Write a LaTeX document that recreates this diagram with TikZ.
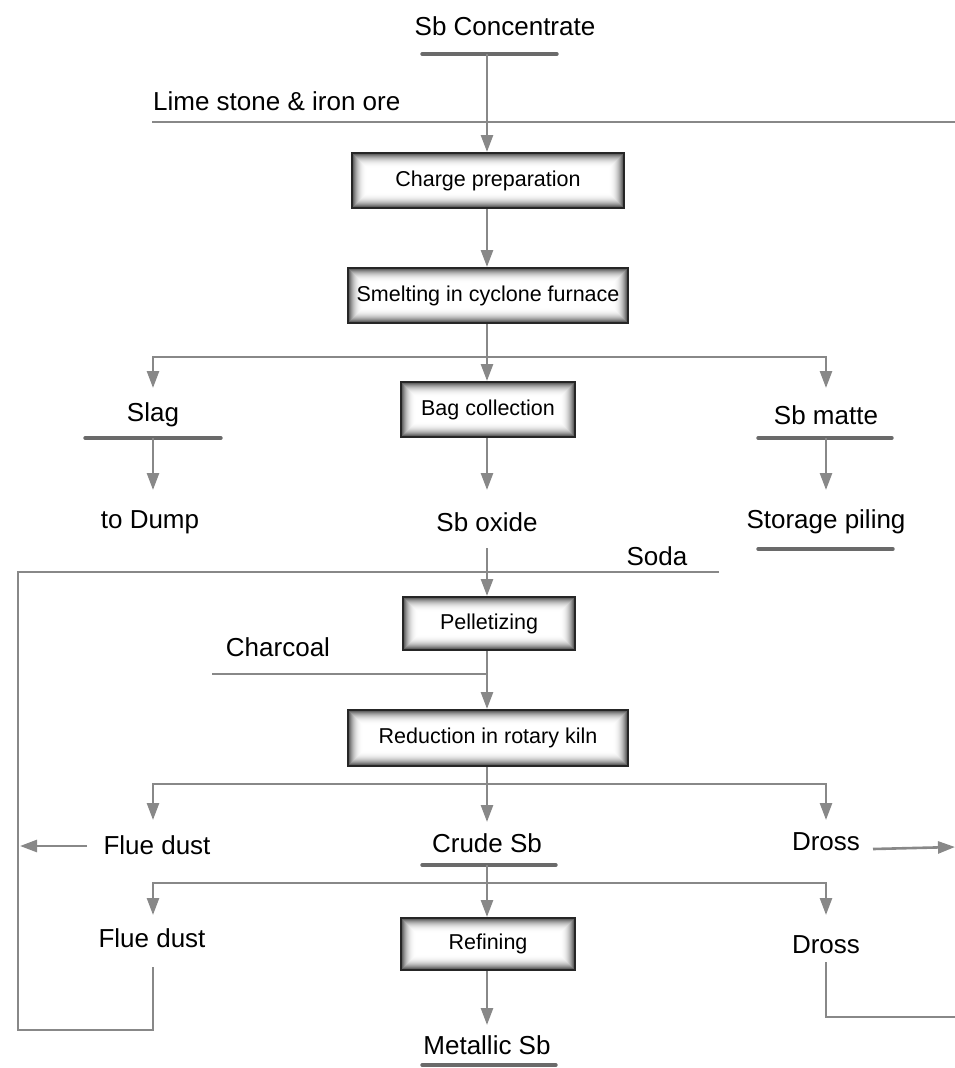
\documentclass[tikz,border=0pt]{standalone}
\usepackage{fontspec}
\setmainfont{Liberation Sans}
\usetikzlibrary{arrows.meta}
\definecolor{flowgray}{HTML}{888888}
\definecolor{bargray}{HTML}{6A6A6A}
\tikzset{
  flow/.style={draw=flowgray, line width=2.6pt},
  feed/.style={flow, -{Triangle[length=17pt,width=12pt]}},
  bar/.style={draw=bargray, line width=3.4pt, line cap=round},
  lbl/.style={inner sep=0pt, font=\fontsize{26}{30}\selectfont},
  stage/.style={draw=black!85, line width=2pt, inner sep=0pt,
    minimum height=55pt, font=\fontsize{21.5}{26}\selectfont,
    path picture={
      \fill[white] (path picture bounding box.south west) rectangle
        (path picture bounding box.north east);
      \foreach \i in {0,...,16}{
        \pgfmathsetmacro\shade{72*(1-\i/16)^2.6}
        \draw[black!\shade, line width=1.05pt]
          ([shift={(\i*1pt+0.5pt,\i*1pt+0.5pt)}]path picture bounding box.south west)
          rectangle
          ([shift={(-\i*1pt-0.5pt,-\i*1pt-0.5pt)}]path picture bounding box.north east);
      }
    }},
}
\begin{document}
\begin{tikzpicture}[x=1pt,y=-1pt]
\useasboundingbox (0,0) rectangle (955,1068);

% ---- feed and stages
\node[lbl] (conc) at (505,26) {Sb Concentrate};
\draw[bar] (422,54) -- (557,54);
\coordinate (concbar) at (487,54);
\node[lbl, anchor=west] (lime) at (153,101) {Lime stone \& iron ore};
\coordinate (limeL) at (152,122);
\coordinate (limeR) at (955,122);

\node[stage, minimum width=272pt] (charge) at (488,180.5) {Charge preparation};
\node[stage, minimum width=280pt] (smelt) at (488,295.5) {Smelting in cyclone furnace};
\node[stage, minimum width=174pt] (bag) at (488,409.5) {Bag collection};

\draw[flow] (limeL) -- (limeR);
\draw[feed] (concbar) -- (charge.north -| concbar);
\draw[feed] (charge.south -| concbar) -- (smelt.north -| concbar);

% ---- smelting products
\coordinate (s1) at (487,357);
\coordinate (s1L) at (153,357);
\coordinate (s1R) at (826,357);
\coordinate (slagtip) at (153,388);
\coordinate (mattetip) at (826,388);
\draw[flow] (smelt.south -| s1) -- (s1);
\draw[feed] (s1) -- (bag.north -| s1);
\draw[feed] (s1) -- (s1L) -- (slagtip);
\draw[feed] (s1) -- (s1R) -- (mattetip);

\node[lbl] (slag) at (153,415) {Slag};
\draw[bar] (85,438) -- (221,438);
\coordinate (slagbar) at (153,438);
\coordinate (dumptip) at (153,490);
\draw[feed] (slagbar) -- (dumptip);
\node[lbl] (dump) at (150,522) {to Dump};

\node[lbl] (matte) at (826,415) {Sb matte};
\draw[bar] (758,438) -- (892,438);
\coordinate (mattebar) at (826,438);
\coordinate (piletip) at (826,490);
\draw[feed] (mattebar) -- (piletip);
\node[lbl] (pile) at (826,522) {Storage piling};
\draw[bar] (758,549) -- (893,549);

\coordinate (oxidetip) at (487,490);
\draw[feed] (bag.south -| oxidetip) -- (oxidetip);
\node[lbl] (oxide) at (487,522) {Sb oxide};

% ---- pelletizing and reduction
\node[stage, minimum width=172pt, minimum height=53pt] (pellet) at (489,623.5) {Pelletizing};
\node[stage, minimum width=280pt, minimum height=56pt] (kiln) at (488,738) {Reduction in rotary kiln};

\coordinate (oxbot) at (487,548);
\draw[feed] (oxbot) -- (pellet.north -| oxbot);

\node[lbl] (soda) at (657,556) {Soda};
\coordinate (sodaR) at (719,572);
\coordinate (loopTL) at (18,572);
\coordinate (loopBL) at (18,1030);
\coordinate (loopBR) at (153,1030);
\coordinate (dust2bot) at (153,967);
\draw[flow] (sodaR) -- (loopTL) -- (loopBL) -- (loopBR) -- (dust2bot);

\node[lbl] (charcoal) at (278,647) {Charcoal};
\coordinate (charL) at (212,674);
\coordinate (charR) at (487,674);
\draw[flow] (charL) -- (charR);
\draw[feed] (pellet.south -| charR) -- (kiln.north -| charR);

% ---- kiln products
\coordinate (s2) at (487,784);
\coordinate (s2L) at (153,784);
\coordinate (s2R) at (826,784);
\coordinate (dust1tip) at (153,820);
\coordinate (dross1tip) at (826,820);
\coordinate (crudetip) at (487,822);
\draw[flow] (kiln.south -| s2) -- (s2);
\draw[feed] (s2) -- (crudetip);
\draw[feed] (s2) -- (s2L) -- (dust1tip);
\draw[feed] (s2) -- (s2R) -- (dross1tip);

\node[lbl] (dust1) at (157,845) {Flue dust};
\coordinate (dust1out) at (87,846);
\coordinate (dust1in) at (20,846);
\draw[feed] (dust1out) -- (dust1in);

\node[lbl] (crude) at (487,843) {Crude Sb};
\draw[bar] (422,865) -- (556,865);
\coordinate (crudebar) at (487,865);

\node[lbl] (dross1) at (826,842) {Dross};
\coordinate (dross1out) at (873,849);
\coordinate (dross1end) at (955,847);
\draw[feed] (dross1out) -- (dross1end);

% ---- refining
\node[stage, minimum width=174pt, minimum height=52pt] (refine) at (488,944) {Refining};

\coordinate (s3) at (487,883);
\coordinate (s3L) at (153,883);
\coordinate (s3R) at (826,883);
\coordinate (dust2tip) at (153,915);
\coordinate (dross2tip) at (826,915);
\draw[flow] (crudebar) -- (s3);
\draw[feed] (s3) -- (refine.north -| s3);
\draw[feed] (s3) -- (s3L) -- (dust2tip);
\draw[feed] (s3) -- (s3R) -- (dross2tip);

\node[lbl] (dust2) at (152,938) {Flue dust};
\node[lbl] (dross2) at (826,945) {Dross};
\coordinate (dross2bot) at (826,962);
\coordinate (dross2corner) at (826,1017);
\coordinate (dross2end) at (955,1017);
\draw[flow] (dross2bot) -- (dross2corner) -- (dross2end);

\coordinate (metaltip) at (487,1025);
\draw[feed] (refine.south -| metaltip) -- (metaltip);
\node[lbl] (metal) at (487,1045) {Metallic Sb};
\draw[bar] (422,1065) -- (556,1065);
\end{tikzpicture}
\end{document}
